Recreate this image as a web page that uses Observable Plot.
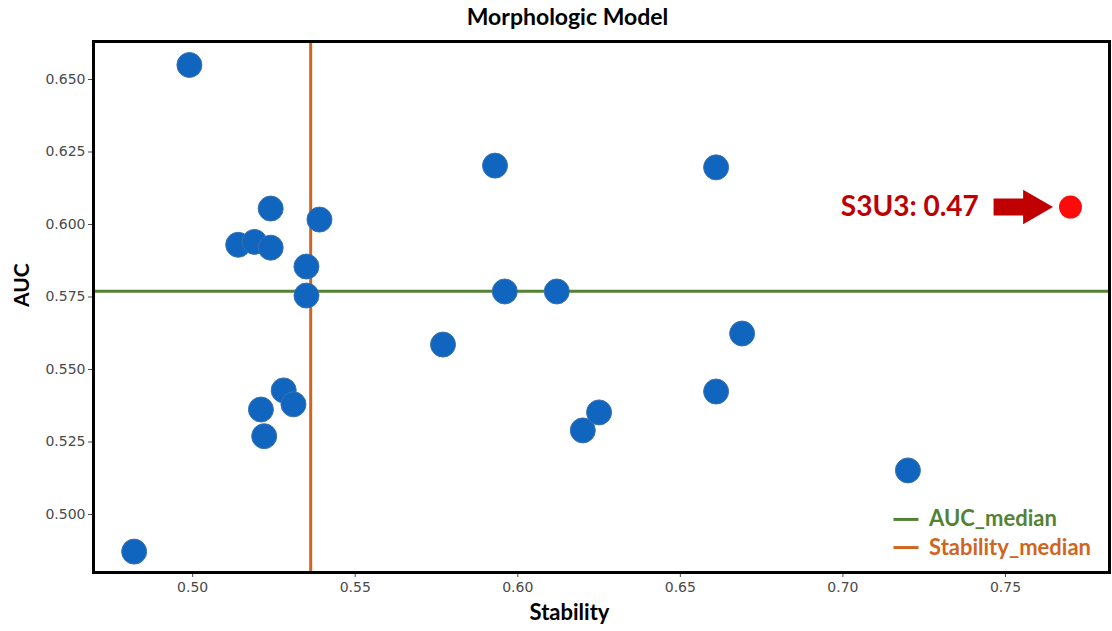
<!DOCTYPE html>
<html>
<head>
<meta charset="utf-8">
<script src="https://cdn.jsdelivr.net/npm/d3@7"></script>
<script src="https://cdn.jsdelivr.net/npm/@observablehq/plot@0.6"></script>
<style>
  html, body { margin: 0; padding: 0; background: #fff; }
</style>
</head>
<body>
<div id="chart"></div>
<script>
// ---- data ----
const stability = [0.499, 0.514, 0.519, 0.524, 0.524, 0.539, 0.535, 0.535, 0.528, 0.521, 0.531, 0.522, 0.482, 0.577, 0.596, 0.612, 0.593, 0.661, 0.620, 0.625, 0.661, 0.669, 0.720];
const auc       = [0.655, 0.593, 0.594, 0.6055, 0.592, 0.6017, 0.5855, 0.5755, 0.5428, 0.5362, 0.538, 0.527, 0.4872, 0.5586, 0.5769, 0.5769, 0.6203, 0.6197, 0.529, 0.5352, 0.5424, 0.5624, 0.5152];
const highlightName = "S3U3";
const highlightValue = 0.47;
const highlightStability = 0.770;
const highlightAuc = 0.606;
const aucMedian = 0.577;
const stabilityMedian = 0.5363;
const xTicks = [0.50, 0.55, 0.60, 0.65, 0.70, 0.75];
const yTicks = [0.500, 0.525, 0.550, 0.575, 0.600, 0.625, 0.650];
const legendLabels = ["AUC_median", "Stability_median"];

const points = stability.map((s, i) => ({stability: s, auc: auc[i]}));

const green = "#548235";
const orange = "#d0651f";
const darkRed = "#c00000";
const boldFont = "Lato, 'Open Sans', sans-serif";
const tickFont = "DejaVu Sans, sans-serif";

const chart = Plot.plot({
  width: 1112,
  height: 631,
  marginLeft: 93,
  marginRight: 3,
  marginTop: 41,
  marginBottom: 59,
  style: {fontFamily: tickFont, fontSize: "14px", background: "#fff"},
  x: {domain: [0.4695, 0.782]},
  y: {domain: [0.480, 0.6631]},
  marks: [
    Plot.axisX({ticks: xTicks, tickFormat: d3.format(".2f"), tickSize: 5, tickPadding: 5, color: "#4a4a4a", label: null, fontSize: 14, fontFamily: tickFont}),
    Plot.axisY({ticks: yTicks, tickFormat: d3.format(".3f"), tickSize: 5, tickPadding: 3, color: "#4a4a4a", label: null, fontSize: 14, fontFamily: tickFont}),
    // median lines
    Plot.ruleY([aucMedian], {stroke: green, strokeWidth: 3}),
    Plot.ruleX([stabilityMedian], {stroke: orange, strokeWidth: 3}),
    // points
    Plot.dot(points, {x: "stability", y: "auc", r: 12.5, fill: "#1066bf", stroke: "#3a72b0", strokeWidth: 1}),
    // highlighted point
    Plot.dot([{stability: highlightStability, auc: highlightAuc}], {x: "stability", y: "auc", r: 11.5, fill: "#ff0a0a"}),
    // annotation arrow: shaft + head
    Plot.ruleY([highlightAuc], {x1: 0.7465, x2: 0.7575, stroke: darkRed, strokeWidth: 17}),
    Plot.dot([{stability: 0.7585, auc: highlightAuc}], {x: "stability", y: "auc", symbol: "triangle", rotate: 90, r: 12.8, fill: darkRed}),
    Plot.text([`${highlightName}: ${highlightValue.toFixed(2)}`], {x: 0.7418, y: highlightAuc, textAnchor: "end", fill: darkRed, fontSize: 28, fontWeight: "bold", fontFamily: boldFont}),
    // legend
    Plot.ruleY([0.4983], {x1: 0.7157, x2: 0.7234, stroke: green, strokeWidth: 3}),
    Plot.ruleY([0.4886], {x1: 0.7157, x2: 0.7234, stroke: orange, strokeWidth: 3}),
    Plot.text([legendLabels[0]], {x: 0.7265, y: 0.4983, textAnchor: "start", fill: green, fontSize: 22, fontWeight: "bold", fontFamily: boldFont}),
    Plot.text([legendLabels[1]], {x: 0.7265, y: 0.4886, textAnchor: "start", fill: orange, fontSize: 22, fontWeight: "bold", fontFamily: boldFont}),
    // frame
    Plot.frame({stroke: "#000", strokeWidth: 3}),
    // title & axis labels
    Plot.text(["Morphologic Model"], {frameAnchor: "top", lineAnchor: "middle", dx: -34, dy: -24, fontSize: 23, fontWeight: "bold", fontFamily: boldFont, fill: "#000"}),
    Plot.text(["Stability"], {frameAnchor: "bottom", lineAnchor: "middle", dx: -32, dy: 40, fontSize: 22, fontWeight: "bold", fontFamily: boldFont, fill: "#000"}),
    Plot.text(["AUC"], {frameAnchor: "left", dx: -71, rotate: -90, fontSize: 21, fontWeight: "bold", fontFamily: boldFont, fill: "#000"})
  ]
});
document.getElementById("chart").append(chart);
</script>
</body>
</html>
